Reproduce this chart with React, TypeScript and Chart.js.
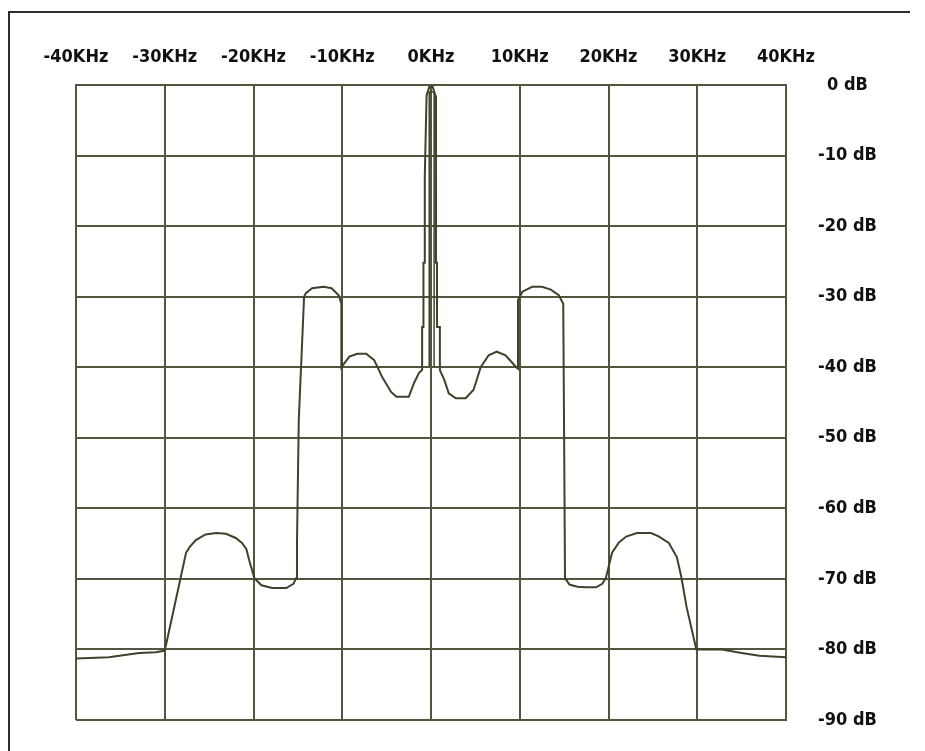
import React, { useEffect, useRef } from "react";
import { Chart, registerables } from "chart.js";

Chart.register(...registerables);

// Axis ticks and labels
const freqTicks = [-40, -30, -20, -10, 0, 10, 20, 30, 40];
const freqTickLabels = ["-40KHz", "-30KHz", "-20KHz", "-10KHz", "0KHz", "10KHz", "20KHz", "30KHz", "40KHz"];
const dbTicks = [0, -10, -20, -30, -40, -50, -60, -70, -80, -90];
const dbTickLabels = ["0 dB", "-10 dB", "-20 dB", "-30 dB", "-40 dB", "-50 dB", "-60 dB", "-70 dB", "-80 dB", "-90 dB"];

// Spectrum trace (kHz, dB)
const traceFreq = [
  -40, -36.3, -32.9, -31.0, -30.1, -29.9, -29.0, -27.6, -27.2, -26.5, -25.4, -24.2, -23.1, -22.0, -21.3,
  -20.8, -20.5, -19.9, -19.1, -17.9, -16.3, -15.5, -15.2, -15.1, -14.9, -14.3, -14.1, -13.4, -12.1, -11.2,
  -10.4, -10.1, -10.1, -9.2, -8.3, -7.3, -6.4, -5.5, -4.5, -3.9, -2.5, -1.9, -1.35, -1.0, -1.0,
  -0.85, -0.85, -0.7, -0.7, -0.5, -0.2, 0.2, 0.5, 0.56, 0.56, 0.68, 0.68, 1.0, 1.0,
  1.5, 2.0, 2.8, 3.9, 4.8, 5.6, 6.5, 7.4, 8.4, 9.1, 9.6, 9.8, 9.8, 10.3, 11.4, 12.5, 13.5, 14.4, 14.9,
  15.0, 15.1, 15.6, 16.5, 17.5, 18.6, 19.3, 19.7, 20.4, 21.2, 22.0, 23.2, 24.8, 25.7, 26.8, 27.7, 28.2,
  28.8, 29.9, 32.8, 35.0, 37.0, 40,
];
const traceLevel = [
  -81.3, -81.1, -80.5, -80.4, -80.2, -79.6, -74.4, -66.3, -65.5, -64.5, -63.7, -63.5, -63.6, -64.2, -64.9,
  -65.8, -67.3, -69.9, -70.9, -71.3, -71.3, -70.7, -69.9, -64.9, -47.5, -30.0, -29.5, -28.8, -28.6, -28.8,
  -29.8, -31.0, -40.0, -38.5, -38.1, -38.1, -39.0, -41.4, -43.5, -44.2, -44.2, -42.2, -40.8, -40.4, -34.3,
  -34.3, -25.2, -25.2, -13.0, -1.5, -0.3, -0.3, -1.5, -13.0, -25.2, -25.2, -34.3, -34.3, -40.4,
  -41.8, -43.7, -44.4, -44.4, -43.2, -40.0, -38.3, -37.8, -38.3, -39.3, -40.0, -40.2, -30.5, -29.3, -28.6, -28.6, -29.0, -29.8, -31.0,
  -50.0, -69.9, -70.8, -71.1, -71.2, -71.2, -70.7, -69.9, -66.3, -64.8, -64.0, -63.5, -63.5, -64.0, -64.9, -66.9, -69.7,
  -74.0, -80.0, -80.0, -80.5, -80.9, -81.1,
];

// Inner trace of the carrier spike
const innerFreq = [-0.2, -0.2, 0.35, 0.35];
const innerLevel = [-40, -1.0, -1.0, -40];

const FONT_FAMILY = "'DejaVu Sans Condensed', 'Liberation Sans Narrow', 'DejaVu Sans', sans-serif";
const GRID = "#55553f";
const TRACE = "#41412b";

export default function App() {
  const canvasRef = useRef<HTMLCanvasElement | null>(null);

  useEffect(() => {
    document.body.style.margin = "0";
    const canvas = canvasRef.current;
    if (!canvas) return;
    const chart = new Chart(canvas, {
      type: "line",
      data: {
        datasets: [
          {
            label: "Spectrum",
            data: traceFreq.map((f, i) => ({ x: f, y: traceLevel[i] })),
            borderColor: TRACE,
            borderWidth: 2,
            pointRadius: 0,
            tension: 0,
            fill: false,
          },
          {
            label: "Carrier",
            data: innerFreq.map((f, i) => ({ x: f, y: innerLevel[i] })),
            borderColor: TRACE,
            borderWidth: 1.5,
            pointRadius: 0,
            tension: 0,
            fill: false,
          },
        ],
      },
      options: {
        animation: false,
        responsive: false,
        maintainAspectRatio: false,
        layout: { padding: { left: 76, right: 39, top: 0, bottom: 31 } },
        plugins: { legend: { display: false }, tooltip: { enabled: false }, title: { display: false } },
        scales: {
          x: {
            type: "linear",
            position: "top",
            min: -40,
            max: 40,
            afterBuildTicks: (s: any) => {
              s.ticks = freqTicks.map((v) => ({ value: v }));
            },
            afterFit: (s: any) => {
              s.height = 85;
            },
            ticks: {
              autoSkip: false,
              maxRotation: 0,
              padding: 17,
              color: "#111",
              font: { family: FONT_FAMILY, size: 18, weight: "bold" },
              callback: (v: any) => {
                const i = freqTicks.indexOf(Number(v));
                return i >= 0 ? freqTickLabels[i] : "";
              },
            },
            grid: { color: GRID, lineWidth: 2, drawTicks: false },
            border: { display: true, color: GRID, width: 2 },
          },
          y: {
            type: "linear",
            position: "right",
            min: -90,
            max: 0,
            afterBuildTicks: (s: any) => {
              s.ticks = dbTicks.map((v) => ({ value: v }));
            },
            afterFit: (s: any) => {
              s.width = 100;
            },
            ticks: {
              autoSkip: false,
              crossAlign: "center",
              padding: 20,
              color: "#111",
              font: { family: FONT_FAMILY, size: 18, weight: "bold" },
              callback: (v: any) => {
                const i = dbTicks.indexOf(Number(v));
                return i >= 0 ? dbTickLabels[i] : "";
              },
            },
            grid: { color: GRID, lineWidth: 2, drawTicks: true, tickLength: 12, tickColor: "rgba(0,0,0,0)" },
            border: { display: true, color: GRID, width: 2 },
          },
        },
      },
    } as any);
    return () => chart.destroy();
  }, []);

  return (
    <div style={{ position: "relative", width: 925, height: 751, background: "#fff", overflow: "hidden" }}>
      <div
        style={{
          position: "absolute",
          left: 8,
          top: 11,
          width: 902,
          height: 740,
          borderTop: "2px solid #2e2e2e",
          borderLeft: "2px solid #2e2e2e",
          boxSizing: "border-box",
          pointerEvents: "none",
        }}
      />
      <canvas ref={canvasRef} width={925} height={751} style={{ position: "absolute", left: 0, top: 0 }} />
    </div>
  );
}
